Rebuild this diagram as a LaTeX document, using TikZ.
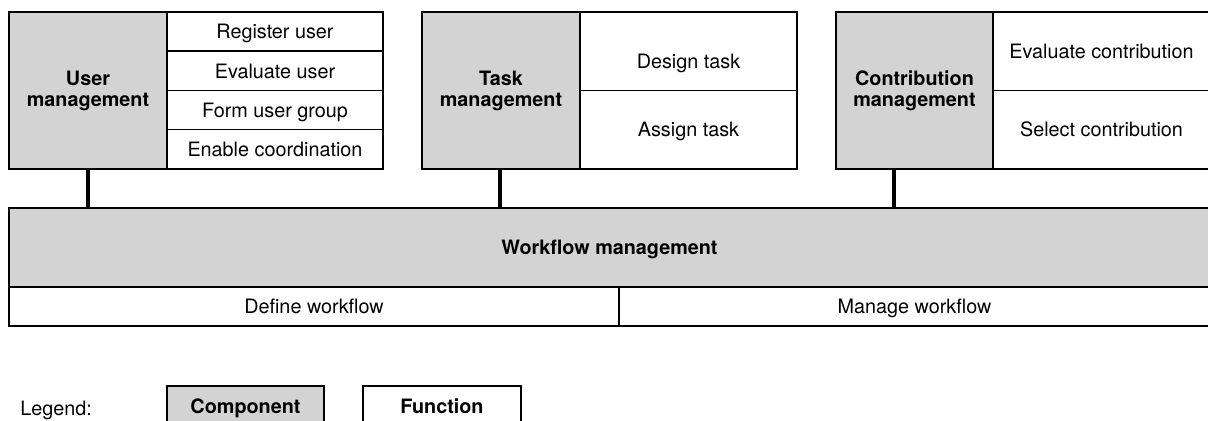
\documentclass[tikz,border=0pt]{standalone}
\usepackage{fontspec}
\setmainfont{TeX Gyre Heros}
\definecolor{compgray}{RGB}{211,211,211}
\newcommand{\labelsize}{\fontsize{9.9pt}{10.5pt}\selectfont}
\tikzset{
  box/.style={draw=black, line width=0.75pt, inner sep=0pt, outer sep=0pt,
              anchor=north west, font=\labelsize},
  comp/.style={box, fill=compgray, align=center, font=\labelsize\bfseries},
  fn/.style={box, fill=white},
  oneline/.style={text height=0.72em, text depth=0pt},
  plain/.style={inner sep=0pt, font=\labelsize, oneline},
  link/.style={draw=black, line width=1.75pt},
}
\begin{document}
\begin{tikzpicture}[x=0.5pt, y=-0.5pt]
\useasboundingbox (0,0) rectangle (1208,421);
\clip (0,0) rectangle (1208,421);

% User management and its functions
\node[comp, minimum width=79pt, minimum height=78.5pt] (um) at (9,12) {User\\management};
\node[fn, oneline, minimum width=108pt, minimum height=19.625pt] (ru) at (167,12)     {Register user};
\node[fn, oneline, minimum width=108pt, minimum height=19.625pt] (eu) at (167,51.25)  {Evaluate user};
\node[fn, oneline, minimum width=108pt, minimum height=19.625pt] (fg) at (167,90.5)   {Form user group};
\node[fn, oneline, minimum width=108pt, minimum height=19.625pt] (ec) at (167,129.75) {Enable coordination};

% Task management and its functions
\node[comp, minimum width=79pt, minimum height=78.5pt] (tm) at (422,12) {Task\\management};
\node[fn, minimum width=108.5pt, minimum height=39.25pt] (dt) at (580,12) {};
\node[plain] (dtl) at ([yshift=-5pt]dt.center) {Design task};
\node[fn, oneline, minimum width=108.5pt, minimum height=39.25pt] (at) at (580,90.5) {Assign task};

% Contribution management and its functions
\node[comp, minimum width=78.5pt, minimum height=78.5pt] (cm) at (836,12) {Contribution\\management};
\node[fn, oneline, minimum width=108.5pt, minimum height=39.25pt] (evc) at (993,12)   {Evaluate contribution};
\node[fn, oneline, minimum width=108.5pt, minimum height=39.25pt] (sc)  at (993,90.5) {Select contribution};

% Workflow management and its functions
\node[comp, oneline, minimum width=600.5pt, minimum height=39.5pt] (wf) at (9,208) {Workflow management};
\node[fn, oneline, minimum width=305pt, minimum height=19.5pt] (dw) at (9,287)   {Define workflow};
\node[fn, oneline, minimum width=295.5pt, minimum height=19.5pt] (mw) at (619,287) {Manage workflow};

% Links from the components down to the workflow layer
\coordinate (cmlink) at (894,169);
\draw[link] (um.south) -- (um.south |- wf.north);
\draw[link] ([xshift=-0.5pt]tm.south) -- ([xshift=-0.5pt]tm.south |- wf.north);
\draw[link] (cmlink) -- (cmlink |- wf.north);

% Legend
\node[plain, anchor=west] (lg) at (20,408) {Legend:};
\node[comp, oneline, minimum width=78.5pt, minimum height=20pt] (lc) at (167,386) {Component};
\node[fn, oneline, minimum width=79pt, minimum height=20pt, font=\labelsize\bfseries] (lf) at (363,386) {Function};
\end{tikzpicture}
\end{document}
